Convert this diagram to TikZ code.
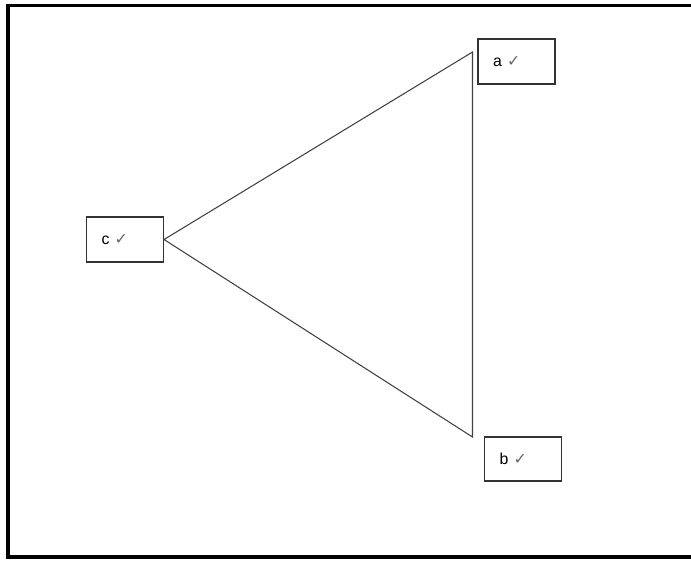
\documentclass[tikz,border=0pt]{standalone}
\usepackage{fontspec}
\setmainfont{Liberation Sans}
\newfontfamily\symfont{DejaVu Sans}
\usetikzlibrary{positioning,calc}

\begin{document}
\begin{tikzpicture}[
    vbox/.style={draw=black!80, line width=0.6pt, text width=0.94cm, inner xsep=0.3cm,
                 minimum height=0.9cm, align=left, font=\small},
    edge/.style={draw=black!75, line width=0.6pt},
    frame/.style={line width=1.8pt}
]
\useasboundingbox (0,0) rectangle (13.82,-11.22);
\draw[frame] (14.2,-0.11) -- (0.16,-0.11) -- (0.16,-11.14) -- (14.2,-11.14);

\node[vbox] (c) at (2.5,-4.79) {c {\symfont\color{black!60}✓}};
\node[vbox] (a) at (10.33,-1.23) {a {\symfont\color{black!60}✓}};
\node[vbox, minimum height=0.88cm] (b) at (10.46,-9.18) {b {\symfont\color{black!60}✓}};

\coordinate (ta) at (9.45,-1.04);
\coordinate (tb) at (9.45,-8.74);

\draw[edge] (c.east) -- (ta) -- (tb) -- (c.east);
\end{tikzpicture}
\end{document}
